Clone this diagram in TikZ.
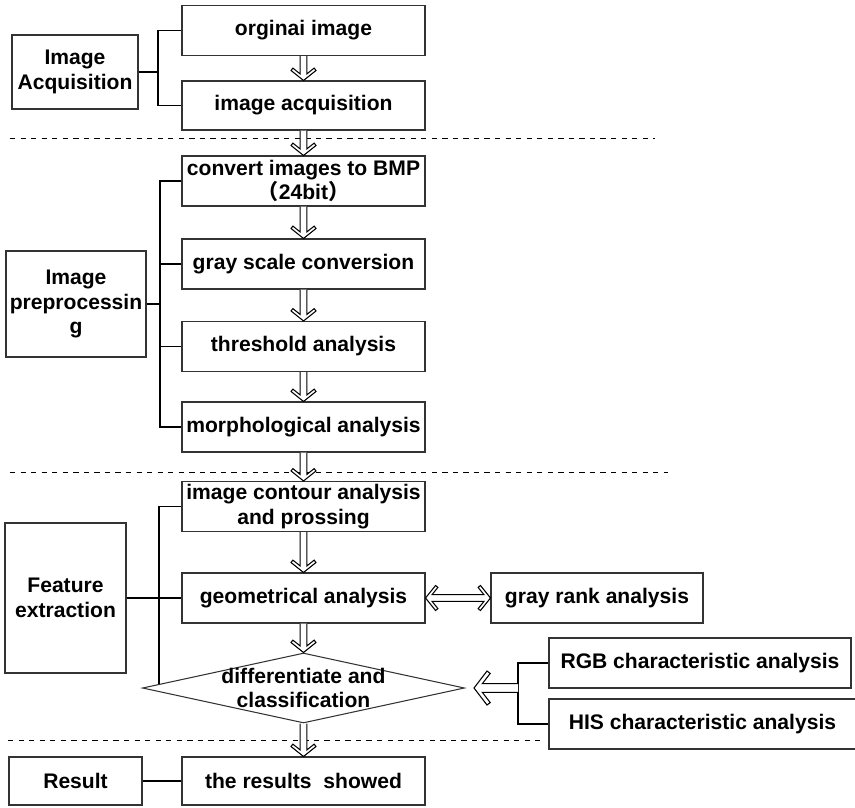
\documentclass[tikz,border=0pt]{standalone}
\usepackage{fontspec}
\setmainfont{Liberation Sans}
\newfontfamily\cjk{Noto Sans CJK SC}
\usepackage{tikz}
\usetikzlibrary{positioning,arrows.meta,shapes.geometric,calc}
\definecolor{boxline}{HTML}{333333}

% hollow arrow: #1 shaft half width, #2 where shaft meets head, #3/#4 inner corner, #5/#6 outer corner
\tikzset{
  harrow/.style n args={6}{draw,fill=white,semithick,to path={
    ($(\tikztostart)!#1!-90:(\tikztotarget)$)
    -- ($(\tikztotarget)!#2!(\tikztostart)!#1!90:(\tikztostart)$)
    -- ($(\tikztotarget)!#4!(\tikztostart)!#3!90:(\tikztostart)$)
    -- ($(\tikztotarget)!#6!(\tikztostart)!#5!90:(\tikztostart)$)
    -- (\tikztotarget)
    -- ($(\tikztotarget)!#6!(\tikztostart)!#5!-90:(\tikztostart)$)
    -- ($(\tikztotarget)!#4!(\tikztostart)!#3!-90:(\tikztostart)$)
    -- ($(\tikztotarget)!#2!(\tikztostart)!#1!-90:(\tikztostart)$)
    -- ($(\tikztostart)!#1!90:(\tikztotarget)$)}},
  harrowtwo/.style n args={6}{draw,fill=white,semithick,to path={
    (\tikztostart)
    -- ($(\tikztostart)!#6!(\tikztotarget)!#5!-90:(\tikztotarget)$)
    -- ($(\tikztostart)!#4!(\tikztotarget)!#3!-90:(\tikztotarget)$)
    -- ($(\tikztostart)!#2!(\tikztotarget)!#1!-90:(\tikztotarget)$)
    -- ($(\tikztotarget)!#2!(\tikztostart)!#1!90:(\tikztostart)$)
    -- ($(\tikztotarget)!#4!(\tikztostart)!#3!90:(\tikztostart)$)
    -- ($(\tikztotarget)!#6!(\tikztostart)!#5!90:(\tikztostart)$)
    -- (\tikztotarget)
    -- ($(\tikztotarget)!#6!(\tikztostart)!#5!-90:(\tikztostart)$)
    -- ($(\tikztotarget)!#4!(\tikztostart)!#3!-90:(\tikztostart)$)
    -- ($(\tikztotarget)!#2!(\tikztostart)!#1!-90:(\tikztostart)$)
    -- ($(\tikztostart)!#2!(\tikztotarget)!#1!90:(\tikztotarget)$)
    -- ($(\tikztostart)!#4!(\tikztotarget)!#3!90:(\tikztotarget)$)
    -- ($(\tikztostart)!#6!(\tikztotarget)!#5!90:(\tikztotarget)$)
    -- cycle}},
  flow/.style={harrow={0.066cm}{0.13cm}{0.2125cm}{0.247cm}{0.25cm}{0.2cm}},
  bigflow/.style={harrow={0.086cm}{0.166cm}{0.291cm}{0.324cm}{0.34cm}{0.26cm}},
  twoflow/.style={harrowtwo={0.066cm}{0.13cm}{0.2125cm}{0.247cm}{0.25cm}{0.2cm}}
}

\begin{document}
\begin{tikzpicture}[every node/.style={font=\fontsize{12}{14}\selectfont\bfseries}]
    \tikzstyle{box}=[draw=boxline,fill=white,semithick,minimum width=48.6mm,minimum height=10mm,
                   align=center,inner sep=1pt];
    \tikzstyle{stage}=[draw=boxline,fill=white,semithick,align=center,inner sep=1pt];
    \tikzstyle{dia}=[draw=boxline,fill=white,semithick,diamond,minimum width=64.4mm,minimum height=14mm,inner sep=0pt];
    \tikzstyle{br}=[line width=1.1pt];
    \tikzstyle{sep}=[dashed,thin];
    \useasboundingbox (0,0) rectangle (17.1,-16.14);

    % dashed separators
    \draw[sep] (0.2,-2.76)  -- (13.1,-2.76);
    \draw[sep] (0.2,-9.44)  -- (13.36,-9.44);
    \draw[sep] (0.16,-14.8) -- (10.8,-14.8);

    % main column
    \node[box] (orig) at (6.07,-0.61)  {orginai image};
    \node[box,minimum height=9.8mm] (acq) at (6.07,-2.11) {image acquisition};
    \node[box] (bmp)  at (6.07,-3.62)  {convert images to BMP\\{\cjk（}24bit{\cjk）}};
    \node[box] (gray) at (6.07,-5.28)  {gray scale conversion};
    \node[box] (thr)  at (6.07,-6.93)  {threshold analysis};
    \node[box] (mor)  at (6.07,-8.54)  {morphological analysis};
    \node[box] (cont) at (6.07,-10.13) {image contour analysis\\and prossing};
    \node[box] (geo)  at (6.07,-11.96) {geometrical analysis};
    \node[dia] (cls)  at (6.07,-13.76) {};
    \node[align=center] (clst) at (cls.center) {differentiate and\\classification};
    \node[box,minimum height=9.6mm] (out) at (6.07,-15.62) {the results\ \ showed};

    % stages on the left
    \node[stage,minimum width=25.2mm,minimum height=14.8mm] (ia)  at (1.5,-1.44)   {Image\\Acquisition};
    \node[stage,minimum width=28mm,minimum height=21.2mm]   (ip)  at (1.52,-6.08)  {Image\\preprocessin\\g};
    \node[stage,minimum width=24.2mm,minimum height=30mm]   (fe)  at (1.31,-11.96) {Feature\\extraction};
    \node[stage,minimum width=26.6mm,minimum height=9.6mm]  (res) at (1.51,-15.62) {Result};

    % side boxes
    \node[box,minimum width=42.4mm] (rank) at (11.94,-11.96) {gray rank analysis};
    \node[box,minimum width=60.4mm] (rgb)  at (14.0,-13.26)  {RGB characteristic analysis};
    \node[box,minimum width=61.4mm] (his)  at (14.05,-14.48) {HIS characteristic analysis};

    % brackets
    \coordinate (iaj) at (3.16,-1.44);
    \draw[br] (orig.west) -| (iaj) |- (acq.west);
    \draw[br] (ia.east) -- (iaj);

    \coordinate (ipj) at (3.2,-6.08);
    \draw[br] (bmp.west) -| (ipj) |- (mor.west);
    \draw[br] (ip.east) -- (ipj);
    \draw[br] (gray.west) -- (gray.west -| ipj);
    \draw[br] (thr.west) -- (thr.west -| ipj);

    \coordinate (fej) at (3.18,-11.96);
    \coordinate (fedn) at (intersection of cls.west--cls.north and fej--{3.18,-10.13});
    \draw[br] (cont.west) -| (fedn);
    \draw[br] (fe.east) -- (geo.west);

    \coordinate (cj) at (10.36,-13.76);
    \coordinate (ct) at (9.48,-13.76);
    \draw[semithick] (rgb.west) -| (cj) |- (his.west);
    \draw[semithick] (res.east) -- (out.west);

    % flow arrows
    \path[flow] (orig.south) to (acq.north);
    \path[flow] (acq.south)  to (bmp.north);
    \path[flow] (bmp.south)  to (gray.north);
    \path[flow] (gray.south) to (thr.north);
    \path[flow] (thr.south)  to (mor.north);
    \path[flow] (mor.south)  to (cont.north);
    \path[flow] (cont.south) to (geo.north);
    \path[flow] (geo.south)  to (cls.north);
    \path[flow] (cls.south)  to (out.north);
    \path[twoflow] (geo.east) to (rank.west);
    \path[bigflow] (cj) to (ct);
  \end{tikzpicture}
\end{document}
